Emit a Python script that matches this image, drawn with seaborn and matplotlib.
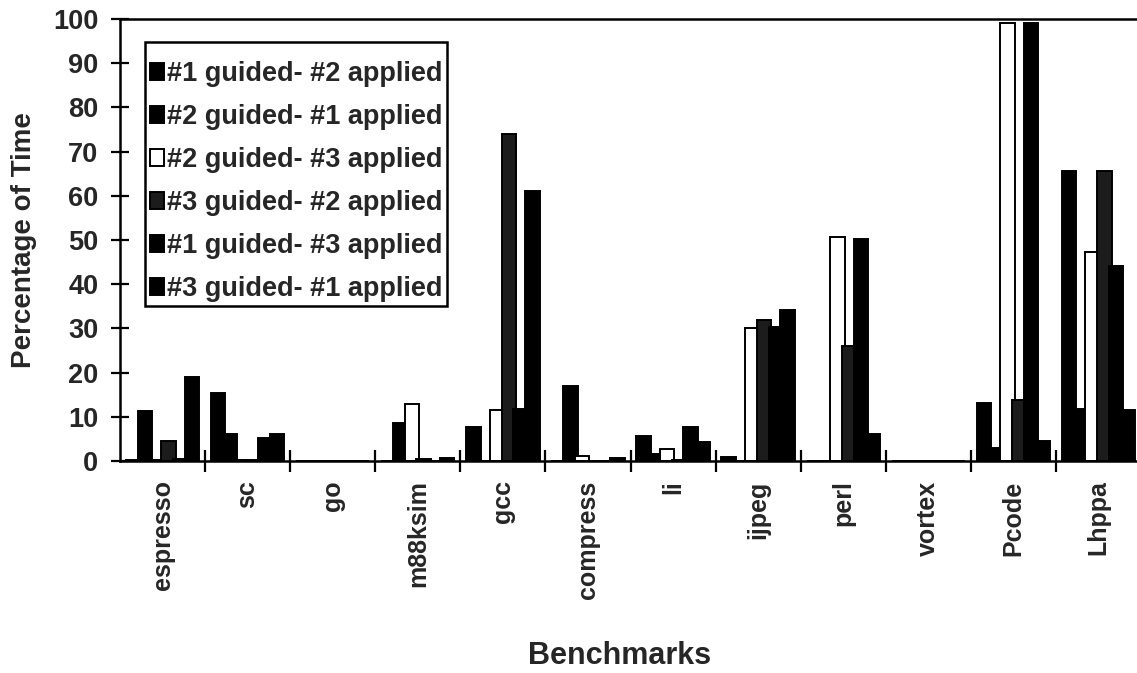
import numpy as np
import pandas as pd
import matplotlib
matplotlib.use("Agg")
import matplotlib.pyplot as plt
from matplotlib.patches import Patch, Rectangle
from matplotlib.ticker import FixedLocator, NullFormatter
import seaborn as sns

# Benchmarks on the x axis
benchmarks = ["espresso", "sc", "go", "m88ksim", "gcc", "compress",
              "li", "ijpeg", "perl", "vortex", "Pcode", "Lhppa"]

# Series: which profile guided, which input applied
series = ["#1 guided- #2 applied", "#2 guided- #1 applied",
          "#2 guided- #3 applied", "#3 guided- #2 applied",
          "#1 guided- #3 applied", "#3 guided- #1 applied"]

# Percentage of time per benchmark, one list per series
g1_a2 = [0.3, 15.3, 0.0, 0.0, 7.8, 0.0, 5.6, 0.8, 0.0, 0.0, 13.2, 65.7]
g2_a1 = [11.3, 6.1, 0.0, 8.6, 0.0, 17.0, 1.6, 0.0, 0.0, 0.0, 3.0, 11.7]
g2_a3 = [0.3, 0.3, 0.0, 12.9, 11.5, 1.2, 2.8, 30.2, 50.7, 0.0, 99.2, 47.3]
g3_a2 = [4.6, 0.3, 0.0, 0.5, 73.9, 0.0, 0.3, 31.8, 26.0, 0.0, 13.8, 65.7]
g1_a3 = [0.5, 5.3, 0.0, 0.0, 11.7, 0.0, 7.8, 30.3, 50.3, 0.0, 99.0, 44.2]
g3_a1 = [19.1, 6.1, 0.0, 0.7, 61.1, 0.7, 4.2, 34.2, 6.2, 0.0, 4.6, 11.5]

values = [g1_a2, g2_a1, g2_a3, g3_a2, g1_a3, g3_a1]
fills = ["#000000", "#000000", "#ffffff", "#1c1c1c", "#000000", "#000000"]

df = pd.DataFrame({
    "Benchmark": np.repeat([benchmarks], len(series), axis=0).ravel(),
    "Series": np.repeat(series, len(benchmarks)),
    "Value": np.concatenate(values),
})

sns.set_theme(style="ticks")
plt.rcParams["font.family"] = ["Liberation Sans", "DejaVu Sans"]
plt.rcParams["font.weight"] = "bold"
plt.rcParams["axes.labelweight"] = "bold"

W, H = 1137, 673
fig = plt.figure(figsize=(W / 100, H / 100), dpi=100)

# plot area in pixels: left edge, right edge, top, baseline
x0, x1, y_top, y_base = 120, 1141, 19, 461
ax = fig.add_axes([x0 / W, 1 - y_base / H, (x1 - x0) / W, (y_base - y_top) / H])

palette = dict(zip(series, fills))
sns.barplot(data=df, x="Benchmark", y="Value", hue="Series",
            order=benchmarks, hue_order=series, palette=palette,
            width=0.83, edgecolor="black", linewidth=1.4,
            saturation=1, legend=False, ax=ax)

# Widen the bars so neighbours overlap slightly, keeping their centres
bar_w = 0.17
for cont in ax.containers:
    for p in cont.patches:
        cx = p.get_x() + p.get_width() / 2
        p.set_x(cx - bar_w / 2)
        p.set_width(bar_w)

ax.set_xlim(-0.5, len(benchmarks) - 0.5)
ax.set_ylim(0, 100)
ax.set_yticks(np.arange(0, 101, 10))

# Category labels between boundary ticks
ax.xaxis.set_major_locator(FixedLocator(np.arange(0.5, len(benchmarks) - 0.5, 1)))
ax.xaxis.set_major_formatter(NullFormatter())
ax.xaxis.set_minor_locator(FixedLocator(np.arange(len(benchmarks))))
ax.set_xticklabels(benchmarks, minor=True, rotation=90, fontsize=18,
                   fontweight="bold", va="top")
ax.tick_params(axis="x", which="major", direction="inout", length=16,
               width=1.6, color="black")
ax.tick_params(axis="x", which="minor", length=0, pad=14)
ax.tick_params(axis="y", direction="inout", length=13, width=1.6,
               labelsize=19.5, color="black", pad=9)
for lbl in ax.get_yticklabels():
    lbl.set_fontweight("bold")

for side in ["left", "bottom", "top", "right"]:
    ax.spines[side].set_visible(True)
    ax.spines[side].set_color("black")
    ax.spines[side].set_linewidth(1.8)

ax.set_xlabel("Benchmarks", fontsize=22, fontweight="bold")
ax.set_ylabel("Percentage of Time", fontsize=20, fontweight="bold")
fig.canvas.draw()
inv = ax.transAxes.inverted()
lx, ly = inv.transform((620, H - 641))
ax.xaxis.set_label_coords(lx, ly)
mx, my = inv.transform((37, H - 240))
ax.yaxis.set_label_coords(mx, 0.5)

# Legend entries, with a plain rectangular frame around them
handles = [Patch(facecolor=c, edgecolor="black", linewidth=1.4) for c in fills]
leg = ax.legend(handles, series, loc="upper left",
                bbox_to_anchor=(150 / W, 1 - 61 / H),
                bbox_transform=fig.transFigure, fontsize=19.5,
                frameon=False, handlelength=0.5, handleheight=0.6,
                handletextpad=0.12, labelspacing=0.63, borderpad=0,
                borderaxespad=0)
for t in leg.get_texts():
    t.set_fontweight("bold")
fig.patches.append(Rectangle((145 / W, 1 - 306 / H), 302 / W, 264 / H,
                             transform=fig.transFigure, fill=False,
                             edgecolor="black", linewidth=1.8, zorder=5))

fig.savefig("out.png", dpi=100, facecolor="white")
